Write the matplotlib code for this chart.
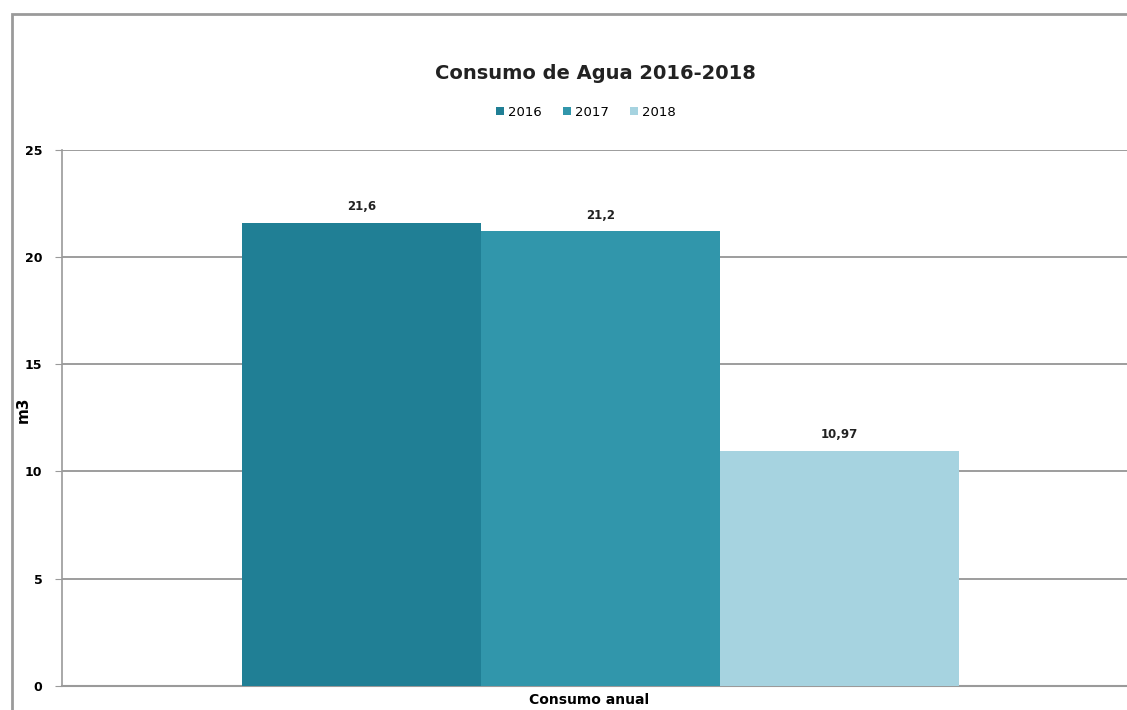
import matplotlib.pyplot as plt
import numpy as np
from matplotlib.patches import Rectangle

# data
years = ['2016', '2017', '2018']
consumo = [21.6, 21.2, 10.97]
etiquetas = ['21,6', '21,2', '10,97']
colores = ['#207f95', '#3196ab', '#a6d3e0']

fig = plt.figure(figsize=(11.27, 7.1), dpi=100)
ax = fig.add_axes([0.055, 0.034, 0.955, 0.755])

# outer chart frame
fig.patches.append(Rectangle((0.0107, -0.05), 1.2, 1.03, transform=fig.transFigure,
                             fill=False, edgecolor='#9a9a9a', linewidth=2))

w = 0.222
x = np.arange(len(years)) - 1
for i in range(len(years)):
    ax.bar(x[i] * w, consumo[i], width=w, color=colores[i], label=years[i], zorder=3)
    ax.text(x[i] * w, consumo[i] + 0.45, etiquetas[i], ha='center', va='bottom',
            fontsize=8.5, fontweight='bold', color='#222222')

ax.set_xlim(-0.5, 0.5)
ax.set_ylim(0, 25)
ax.set_yticks([0, 5, 10, 15, 20, 25])
ax.set_xticks([])
ax.yaxis.grid(True, color='#8c8c8c', linewidth=1.2, zorder=0)
for s in ['top', 'right']:
    ax.spines[s].set_visible(False)
ax.spines['left'].set_color('#9a9a9a')
ax.spines['bottom'].set_color('#9a9a9a')
ax.spines['left'].set_linewidth(1.2)
ax.spines['bottom'].set_linewidth(1.5)
ax.tick_params(axis='y', length=5, color='#9a9a9a', labelsize=9, pad=9)
for lbl in ax.get_yticklabels():
    lbl.set_fontweight('bold')

fig.text(0.021, 0.423, 'm3', rotation=90, ha='center', va='center',
         fontsize=11, fontweight='bold')
fig.text(0.523, 0.014, 'Consumo anual', ha='center', va='center',
         fontsize=10, fontweight='bold')

fig.text(0.528, 0.897, 'Consumo de Agua 2016-2018', ha='center', va='center',
         fontsize=14, fontweight='bold', color='#222222')
fig.legend(loc='center', bbox_to_anchor=(0.52, 0.842), ncol=3, frameon=False,
           fontsize=9.5, handlelength=0.6, handleheight=0.6, columnspacing=1.6,
           handletextpad=0.3)

fig.savefig('out.png', dpi=100)
